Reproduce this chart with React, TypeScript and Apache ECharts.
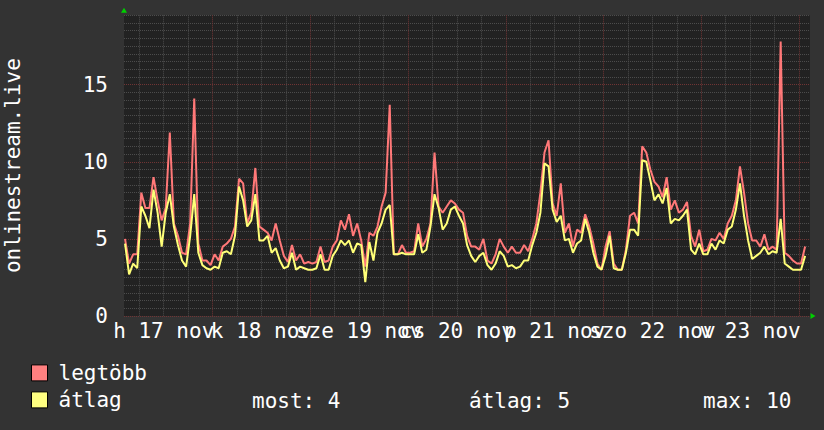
import React, { useEffect, useRef } from "react";
import * as echarts from "echarts";

// ---- data (hours counted from 17 nov 00:00) ----
const startHour = 2.5;
const stepHours = 1;

// legtöbb (max) per hour
const maxValues = [
  5.0, 3.4, 4.0, 4.0, 8.0, 7.0, 7.0, 9.0, 7.5, 6.2, 7.0, 11.9, 6.0, 5.2, 4.1, 4.0, 6.0, 14.1, 4.7, 3.6,
  3.6, 3.3, 4.0, 3.6, 4.5, 4.7, 5.0, 5.8, 8.9, 8.6, 6.0, 6.7, 9.6, 5.8, 5.6, 5.4, 4.9, 6.0, 4.9, 3.9,
  3.5, 4.6, 3.6, 4.0, 3.4, 3.5, 3.4, 3.5, 4.5, 3.5, 3.6, 4.5, 4.9, 6.2, 5.6, 6.6, 5.2,
  6.0, 4.9, 3.2, 5.4, 5.2, 5.8, 7.1, 8.0, 13.7, 4.0, 4.0, 4.6, 4.1, 4.1, 4.2, 6.0, 4.5, 5.0, 6.0, 10.6,
  7.1, 6.7, 7.1, 7.5, 7.3, 6.9, 6.7, 5.2, 4.5, 4.5, 4.3, 5.0, 3.6, 3.4, 4.0, 5.0, 4.5, 4.1, 4.5, 4.1,
  4.1, 4.6, 4.2, 5.0, 6.0, 8.0, 10.6, 11.4, 7.3, 6.5, 8.6, 5.4, 6.0, 4.5, 5.6, 5.4,
  6.6, 5.8, 4.7, 3.4, 3.0, 4.5, 5.5, 3.4, 3.0, 3.0, 4.3, 6.5, 6.7, 6.0, 11.0, 10.6, 9.5, 8.7, 8.4, 7.7,
  9.0, 6.9, 7.5, 6.7, 6.9, 7.4, 5.2, 4.5, 5.6, 4.2, 4.3, 5.0, 4.9, 5.4, 5.0, 6.0, 6.5, 7.5, 9.7, 8.0,
  6.0, 4.9, 4.9, 4.5, 5.3, 4.3, 4.5, 4.3, 17.8, 4.1, 3.9, 3.6, 3.4, 3.4, 4.5,
];

// átlag (average) per hour
const avgValues = [
  4.7, 2.7, 3.4, 3.1, 7.1, 6.5, 5.7, 8.2, 6.7, 4.5, 6.7, 7.9, 5.8, 4.6, 3.6, 3.2, 5.2, 7.9, 4.1, 3.3,
  3.1, 3.0, 3.2, 3.1, 4.1, 4.2, 4.0, 5.2, 8.4, 7.5, 5.8, 6.2, 7.9, 4.9, 4.9, 5.2, 4.1, 4.4, 3.6, 3.1,
  3.2, 4.1, 3.0, 3.2, 3.1, 3.0, 3.0, 3.1, 4.0, 3.0, 3.0, 3.9, 4.3, 4.9, 4.6, 4.9, 4.1,
  4.7, 4.6, 2.2, 4.8, 3.6, 5.4, 6.0, 6.9, 7.2, 4.0, 4.0, 4.1, 4.0, 4.0, 4.0, 5.3, 4.1, 4.3, 5.8, 7.9,
  7.0, 5.6, 6.0, 6.9, 7.1, 6.5, 6.0, 4.6, 3.9, 3.5, 3.9, 4.1, 3.3, 3.0, 3.4, 4.2, 3.9, 3.2, 3.3, 3.1,
  3.2, 3.6, 3.6, 4.6, 5.4, 6.7, 9.9, 9.7, 6.9, 6.1, 6.5, 4.9, 5.0, 4.1, 4.7, 4.9,
  6.3, 5.4, 4.1, 3.2, 3.0, 3.9, 5.2, 3.1, 3.0, 3.0, 4.1, 5.6, 5.6, 5.2, 10.1, 10.0, 8.8, 7.5, 7.9, 7.3,
  8.3, 6.0, 6.3, 6.2, 6.5, 6.9, 4.3, 4.0, 4.7, 4.0, 4.0, 4.7, 4.3, 4.9, 4.7, 5.6, 5.8, 6.9, 8.6, 6.5,
  4.9, 3.7, 3.9, 4.1, 4.5, 4.0, 4.2, 4.1, 6.3, 3.4, 3.2, 3.0, 3.0, 3.0, 3.9,
];

const seriesNames = ["legtöbb", "átlag"];
const dayLabelHours = [12, 36, 60, 84, 108, 132, 156];
const dayLabels = ["h 17 nov", "k 18 nov", "sze 19 nov", "cs 20 nov", "p 21 nov", "szo 22 nov", "v 23 nov"];
const minorGridHours = [6, 12, 18, 30, 36, 42, 54, 60, 66, 78, 84, 90, 102, 108, 114, 126, 132, 138, 150, 156, 162];
const majorGridHours = [24, 48, 72, 96, 120, 144, 168];
const statLabels = ["most", "átlag", "max"];
const statValues = [4, 5, 10];
const yAxisTitle = "onlinestream.live";

// ---- layout / style ----
const X_MIN = 2.25;
const X_MAX = 170.7;
const Y_MAX = 19.5;
const FONT = '"DejaVu Sans Mono", monospace';
const FS = 21;
const statX = [252, 469, 703];
const MINOR = "#4c4c4c";
const MAJOR = "#703434";

const labelFor = (v: number) => {
  const i = dayLabelHours.indexOf(Math.round(v));
  return i >= 0 ? dayLabels[i] : "";
};

export default function App() {
  const ref = useRef<HTMLDivElement>(null);

  useEffect(() => {
    document.body.style.margin = "0";
    const chart = echarts.init(ref.current!, null, { renderer: "svg" });
    const toPairs = (vals: number[]) => vals.map((v, i) => [startHour + i * stepHours, v]);
    const evenLabels = dayLabelHours.filter((_, i) => i % 2 === 0);
    const oddLabels = dayLabelHours.filter((_, i) => i % 2 === 1);
    const labelStyle = {
      formatter: labelFor,
      color: "#ffffff",
      fontFamily: FONT,
      fontSize: FS,
      margin: 4,
      hideOverlap: false,
      showMinLabel: true,
      showMaxLabel: true,
    };

    chart.setOption({
      animation: false,
      backgroundColor: "#333333",
      textStyle: { fontFamily: FONT },
      grid: {
        left: 124,
        top: 15.3,
        width: 686,
        height: 300.7,
        show: true,
        backgroundColor: "#222222",
        borderWidth: 0,
        containLabel: false,
        outerBoundsMode: "none",
      },
      legend: {
        orient: "vertical",
        left: 31,
        top: 362.4,
        padding: 0,
        itemWidth: 16,
        itemHeight: 16,
        itemGap: 6,
        selectedMode: false,
        textStyle: { color: "#ffffff", fontFamily: FONT, fontSize: FS, padding: [0, 0, 0, 6] },
        data: [
          { name: seriesNames[0], icon: "rect", itemStyle: { color: "#ff8080", borderColor: "#000", borderWidth: 1 } },
          { name: seriesNames[1], icon: "rect", itemStyle: { color: "#ffff80", borderColor: "#000", borderWidth: 1 } },
        ],
      },
      xAxis: [
        {
          type: "value",
          min: X_MIN,
          max: X_MAX,
          position: "bottom",
          axisTick: { show: false, customValues: minorGridHours },
          splitLine: { show: true, lineStyle: { color: MINOR, type: [1, 1], width: 1 } },
          axisLine: {
            show: true,
            onZero: false,
            symbol: ["none", "triangle"],
            symbolSize: [6, 5],
            symbolOffset: [0, 3],
            lineStyle: { color: "#00d000", width: 0 },
          },
          axisLabel: { ...labelStyle, customValues: evenLabels },
        },
        {
          type: "value",
          min: X_MIN,
          max: X_MAX,
          position: "bottom",
          offset: 0,
          axisTick: { show: false, customValues: majorGridHours },
          splitLine: { show: true, lineStyle: { color: MAJOR, type: [1, 1], width: 1 } },
          axisLine: { show: false, onZero: false },
          axisLabel: { ...labelStyle, customValues: oddLabels },
        },
      ],
      yAxis: [
        {
          type: "value",
          min: 0,
          max: Y_MAX,
          interval: 0.5,
          position: "left",
          axisLine: { show: false },
          axisTick: { show: false },
          axisLabel: { show: false },
          splitLine: { show: true, lineStyle: { color: MINOR, type: [1, 1], width: 1 } },
        },
        {
          type: "value",
          min: 0,
          max: Y_MAX,
          interval: 5,
          position: "left",
          name: yAxisTitle,
          nameLocation: "middle",
          nameGap: 101,
          nameRotate: 90,
          nameTextStyle: { color: "#ffffff", fontFamily: FONT, fontSize: FS },
          axisLine: {
            show: true,
            symbol: ["none", "triangle"],
            symbolSize: [6, 5],
            symbolOffset: [0, 5],
            lineStyle: { color: "#00d000", width: 0 },
          },
          axisTick: { show: false },
          axisLabel: { color: "#ffffff", fontFamily: FONT, fontSize: FS, margin: 16, showMaxLabel: false },
          splitLine: { show: true, showMaxLine: false, lineStyle: { color: MAJOR, type: [1, 1], width: 1 } },
        },
      ],
      graphic: statLabels.map((lab, i) => ({
        type: "text",
        x: statX[i],
        y: 401,
        silent: true,
        style: {
          text: `${lab}: ${statValues[i]}`,
          fill: "#ffffff",
          font: `${FS}px ${FONT}`,
          verticalAlign: "middle",
        },
      })),
      series: [
        {
          type: "line",
          name: seriesNames[0],
          data: toPairs(maxValues),
          xAxisIndex: 0,
          yAxisIndex: 0,
          symbol: "none",
          z: 3,
          lineStyle: { color: "#ff7878", width: 2 },
          itemStyle: { color: "#ff8080" },
        },
        {
          type: "line",
          name: seriesNames[1],
          data: toPairs(avgValues),
          xAxisIndex: 0,
          yAxisIndex: 0,
          symbol: "none",
          z: 4,
          lineStyle: { color: "#ffff78", width: 2 },
          itemStyle: { color: "#ffff80" },
        },
      ],
    });

    return () => chart.dispose();
  }, []);

  return <div ref={ref} style={{ width: 824, height: 430 }} />;
}
